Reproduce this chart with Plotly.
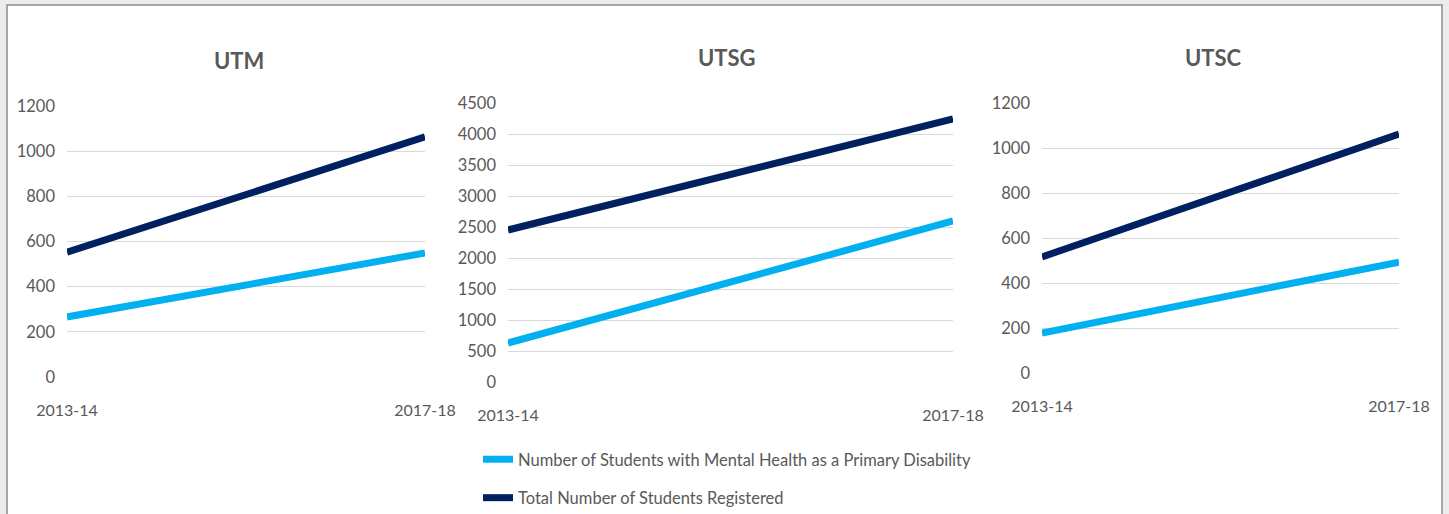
import plotly.graph_objects as go

W, H = 1449, 514

years = ["2013-14", "2017-18"]
campuses = ["UTM", "UTSG", "UTSC"]
mental_health = {
    "UTM": [266, 549],
    "UTSG": [629, 2597],
    "UTSC": [178, 493],
}
total_registered = {
    "UTM": [553, 1063],
    "UTSG": [2452, 4242],
    "UTSC": [516, 1062],
}
y_ticks = {
    "UTM": [0, 200, 400, 600, 800, 1000, 1200],
    "UTSG": [0, 500, 1000, 1500, 2000, 2500, 3000, 3500, 4000, 4500],
    "UTSC": [0, 200, 400, 600, 800, 1000, 1200],
}
series_names = ["Number of Students with Mental Health as a Primary Disability",
                "Total Number of Students Registered"]

LIGHT = "#00B0F0"
DARK = "#002060"
FONT = "Lato, Liberation Sans, Arial, sans-serif"
TXT = "#595959"

# pixel layout of panels: (x0, x1, ytop, ybottom, title_x, title_y)
panels = {
    "UTM": (67, 425, 106, 377, 239, 60),
    "UTSG": (508, 953, 103, 382, 727, 57),
    "UTSC": (1042, 1399, 103, 373, 1213, 57),
}

fig = go.Figure()
layout = {}
annotations = []
for i, c in enumerate(campuses, start=1):
    sfx = "" if i == 1 else str(i)
    x0, x1, yt, yb, tx, ty = panels[c]
    fig.add_trace(go.Scatter(
        x=years, y=mental_health[c], mode="lines",
        line=dict(color=LIGHT, width=7), name=series_names[0],
        legendgroup="a", showlegend=(i == 1),
        xaxis="x" + sfx, yaxis="y" + sfx, hoverinfo="skip"))
    fig.add_trace(go.Scatter(
        x=years, y=total_registered[c], mode="lines",
        line=dict(color=DARK, width=7), name=series_names[1],
        legendgroup="b", showlegend=(i == 1),
        xaxis="x" + sfx, yaxis="y" + sfx, hoverinfo="skip"))
    ymax = y_ticks[c][-1]
    layout["xaxis" + sfx] = dict(
        domain=[x0 / W, x1 / W], type="category", range=[0, 1],
        showgrid=False, zeroline=False, showline=False, ticks="",
        ticklabelstandoff=22, anchor="y" + sfx, automargin=False,
        tickfont=dict(family=FONT, size=16, color=TXT), fixedrange=True)
    layout["yaxis" + sfx] = dict(
        domain=[1 - yb / H, 1 - yt / H], range=[0, ymax],
        tickvals=y_ticks[c], showgrid=True, gridcolor="#d9d9d9", gridwidth=1,
        zeroline=False, showline=False, ticks="", ticklabelstandoff=11,
        anchor="x" + sfx, automargin=False,
        tickfont=dict(family=FONT, size=16.5, color=TXT), fixedrange=True)
    annotations.append(dict(
        text="<b>" + c + "</b>", x=tx / W, y=1 - ty / H, xref="paper", yref="paper",
        showarrow=False, xanchor="center", yanchor="middle",
        font=dict(family=FONT, size=22, color=TXT)))

fig.update_layout(
    **layout,
    annotations=annotations,
    width=W, height=H,
    margin=dict(l=0, r=0, t=0, b=0, autoexpand=False),
    paper_bgcolor="#ececec",
    plot_bgcolor="rgba(0,0,0,0)",
    showlegend=True,
    legend=dict(x=478 / W, y=1 - 442 / H, xanchor="left", yanchor="top",
                bgcolor="rgba(0,0,0,0)", tracegroupgap=14, itemwidth=30,
                font=dict(family=FONT, size=16.5, color=TXT)),
    shapes=[dict(type="rect", xref="paper", yref="paper",
                 x0=7 / W, x1=1442 / W, y0=-0.05, y1=1 - 5 / H,
                 fillcolor="white", line=dict(color="#8c8c8c", width=1.5),
                 layer="below")],
)

fig.write_html(
    "out.html",
    config={"displayModeBar": False},
    post_script="document.body.style.margin='0';document.body.style.overflow='hidden';",
)
